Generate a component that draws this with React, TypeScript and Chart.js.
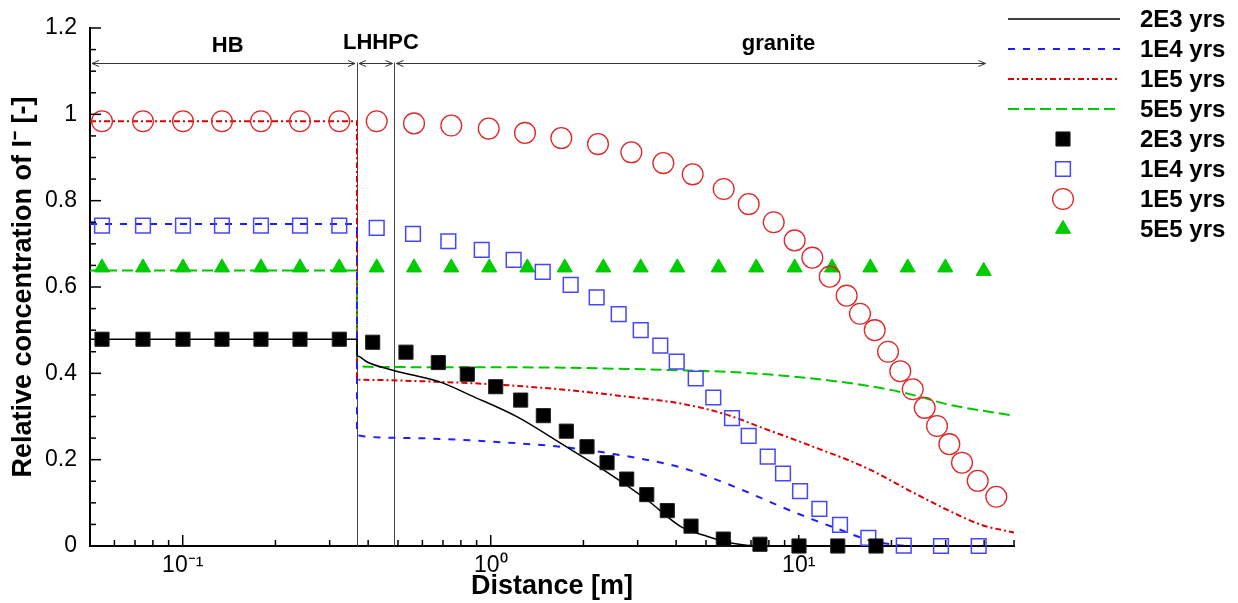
import React, { useEffect, useRef } from 'react';
import { Chart, registerables } from 'chart.js';

Chart.register(...registerables);

const FONT = "'Liberation Sans', Arial, Helvetica, sans-serif";

// ---------- simulated curves (lines) ----------
const line2e3X = [0.05, 0.368, 0.368, 0.40, 0.487, 0.69, 0.86, 1.22, 1.73, 2.33, 3.23, 4.14, 5.06, 6.03, 7.5, 50];
const line2e3Y = [0.479, 0.479, 0.44, 0.425, 0.406, 0.379, 0.349, 0.299, 0.233, 0.176, 0.106, 0.045, 0.022, 0.007, 0, 0];

const line1e4X = [0.05, 0.368, 0.368, 0.40, 0.637, 1.0, 1.73, 2.51, 4.04, 5.3, 6.8, 8.76, 11.24, 13.7, 16.8, 21, 25, 50];
const line1e4Y = [0.746, 0.746, 0.256, 0.253, 0.249, 0.242, 0.229, 0.213, 0.184, 0.156, 0.125, 0.091, 0.06, 0.037, 0.014, 0.002, 0, 0];

const line1e5X = [0.05, 0.368, 0.368, 0.637, 1.05, 1.73, 2.85, 4.14, 5.73, 7.73, 11.24, 16.34, 23.8, 30.5, 39.2, 50];
const line1e5Y = [0.984, 0.984, 0.385, 0.381, 0.374, 0.362, 0.345, 0.33, 0.306, 0.272, 0.229, 0.183, 0.122, 0.083, 0.049, 0.031];

const line5e5X = [0.05, 0.368, 0.368, 0.40, 1.05, 1.73, 2.85, 4.14, 6.03, 8.76, 12.74, 18.5, 23.8, 30.5, 50];
const line5e5Y = [0.638, 0.638, 0.417, 0.415, 0.414, 0.413, 0.41, 0.407, 0.403, 0.395, 0.383, 0.366, 0.349, 0.328, 0.302];

// ---------- measured points (markers) ----------
const pts2e3X = [0.0547, 0.0743, 0.1002, 0.1341, 0.1795, 0.2403, 0.3224, 0.4138, 0.5307, 0.6759, 0.8394, 1.038, 1.251, 1.482, 1.76, 2.054, 2.386, 2.764, 3.211, 3.744, 4.47, 5.69, 7.485, 10.02, 13.39, 17.82];
const pts2e3Y = [0.479, 0.479, 0.479, 0.479, 0.479, 0.479, 0.479, 0.472, 0.449, 0.425, 0.398, 0.369, 0.338, 0.302, 0.266, 0.23, 0.193, 0.155, 0.119, 0.082, 0.046, 0.016, 0.004, 0, 0, 0];

const pts1e4X = [0.0547, 0.0743, 0.1002, 0.1341, 0.1795, 0.2403, 0.3224, 0.4264, 0.5594, 0.7285, 0.935, 1.187, 1.475, 1.818, 2.208, 2.603, 3.069, 3.553, 4.017, 4.63, 5.28, 6.073, 6.88, 7.932, 8.892, 10.1, 11.67, 13.62, 16.83, 21.93, 28.97, 38.41];
const pts1e4Y = [0.742, 0.742, 0.742, 0.742, 0.742, 0.742, 0.742, 0.737, 0.723, 0.706, 0.686, 0.663, 0.635, 0.605, 0.576, 0.537, 0.5, 0.464, 0.427, 0.388, 0.344, 0.296, 0.255, 0.207, 0.168, 0.127, 0.086, 0.049, 0.019, 0.001, 0, 0];

const pts1e5X = [0.0547, 0.0743, 0.1002, 0.1341, 0.1795, 0.2403, 0.3224, 0.4264, 0.5636, 0.7447, 0.985, 1.292, 1.695, 2.23, 2.861, 3.635, 4.527, 5.707, 6.88, 8.295, 9.7, 11.07, 12.61, 14.31, 15.81, 17.65, 19.5, 21.37, 23.45, 25.65, 28.12, 30.83, 33.9, 38.12, 43.8];
const pts1e5Y = [0.984, 0.984, 0.984, 0.984, 0.984, 0.984, 0.984, 0.984, 0.979, 0.974, 0.967, 0.957, 0.945, 0.931, 0.912, 0.887, 0.861, 0.827, 0.792, 0.75, 0.708, 0.668, 0.624, 0.58, 0.538, 0.5, 0.45, 0.405, 0.363, 0.32, 0.278, 0.236, 0.193, 0.151, 0.114];

const pts5e5X = [0.0547, 0.0743, 0.1002, 0.1341, 0.1795, 0.2403, 0.3224, 0.4264, 0.5636, 0.7447, 0.9894, 1.315, 1.739, 2.321, 3.069, 4.035, 5.497, 7.28, 9.7, 12.83, 17.08, 22.59, 29.92, 39.87];
const pts5e5Y = [0.645, 0.645, 0.645, 0.645, 0.645, 0.645, 0.645, 0.645, 0.645, 0.645, 0.645, 0.645, 0.645, 0.645, 0.645, 0.645, 0.645, 0.645, 0.645, 0.645, 0.645, 0.645, 0.645, 0.637];

const legendLabels = ['2E3 yrs', '1E4 yrs', '1E5 yrs', '5E5 yrs', '2E3 yrs', '1E4 yrs', '1E5 yrs', '5E5 yrs'];

// ---------- axes ----------
const xMin = 0.05;
const xMax = 50;
const xTickValues = [0.1, 1, 10];
const xTickLabels = ['10⁻¹', '10⁰', '10¹'];
const xMinorDecades = [0.01, 0.1, 1, 10];
const xMinorMultipliers = [2, 3, 4, 5, 6, 7, 8, 9];
const yMin = 0;
const yMax = 1.2;
const yTickValues = [0, 0.2, 0.4, 0.6, 0.8, 1, 1.2];
const yTickLabels = ['0', '0.2', '0.4', '0.6', '0.8', '1', '1.2'];
const yMinorValues = [0.05, 0.1, 0.15, 0.25, 0.3, 0.35, 0.45, 0.5, 0.55, 0.65, 0.7, 0.75, 0.85, 0.9, 0.95, 1.05, 1.1, 1.15];

// ---------- zone annotations ----------
const boundaryX = [0.368, 0.487];
const arrowY = 1.12;
const zoneStart = [0.05, 0.368, 0.487];
const zoneEnd = [0.368, 0.487, 41];
const zoneLabels = ['HB', 'LHHPC', 'granite'];
const zoneLabelX = [0.14, 0.44, 8.6];
const zoneLabelY = [1.158, 1.165, 1.163];

const toPts = (xs: number[], ys: number[]) => xs.map((x, i) => ({ x, y: ys[i] }));

function drawMarker(ctx: CanvasRenderingContext2D, style: string, x: number, y: number, r: number) {
  ctx.beginPath();
  if (style === 'rect') {
    const s = r * Math.SQRT1_2;
    ctx.rect(x - s, y - s, 2 * s, 2 * s);
  } else if (style === 'circle') {
    ctx.arc(x, y, r, 0, Math.PI * 2);
  } else if (style === 'triangle') {
    let rad = 0;
    ctx.moveTo(x + Math.sin(rad) * r, y - Math.cos(rad) * r);
    rad += (2 * Math.PI) / 3;
    ctx.lineTo(x + Math.sin(rad) * r, y - Math.cos(rad) * r);
    rad += (2 * Math.PI) / 3;
    ctx.lineTo(x + Math.sin(rad) * r, y - Math.cos(rad) * r);
  }
  ctx.closePath();
}

const zonePlugin = {
  id: 'zones',
  beforeDatasetsDraw(chart: any) {
    const { ctx, scales } = chart;
    const xs = scales.x;
    const ys = scales.y;
    const ya = ys.getPixelForValue(arrowY);
    const y0 = ys.getPixelForValue(0);
    ctx.save();
    ctx.strokeStyle = '#444';
    ctx.lineWidth = 1;
    boundaryX.forEach((b) => {
      const px = Math.round(xs.getPixelForValue(b)) + 0.5;
      ctx.beginPath();
      ctx.moveTo(px, ya);
      ctx.lineTo(px, y0);
      ctx.stroke();
    });
    ctx.strokeStyle = '#333';
    const yy = Math.round(ya) + 0.5;
    zoneStart.forEach((s, i) => {
      const x1 = xs.getPixelForValue(s) + 2;
      const x2 = xs.getPixelForValue(zoneEnd[i]) - 2;
      ctx.beginPath();
      ctx.moveTo(x1, yy);
      ctx.lineTo(x2, yy);
      ctx.moveTo(x1 + 7, yy - 3);
      ctx.lineTo(x1, yy);
      ctx.lineTo(x1 + 7, yy + 3);
      ctx.moveTo(x2 - 7, yy - 3);
      ctx.lineTo(x2, yy);
      ctx.lineTo(x2 - 7, yy + 3);
      ctx.stroke();
    });
    ctx.fillStyle = '#000';
    ctx.font = `bold 22px ${FONT}`;
    ctx.textAlign = 'center';
    ctx.textBaseline = 'middle';
    zoneLabels.forEach((t, i) => {
      ctx.fillText(t, xs.getPixelForValue(zoneLabelX[i]), ys.getPixelForValue(zoneLabelY[i]));
    });
    ctx.restore();
  },
};

const tickPlugin = {
  id: 'inTicks',
  afterDraw(chart: any) {
    const { ctx, scales, chartArea } = chart;
    const xs = scales.x;
    const ys = scales.y;
    ctx.save();
    ctx.strokeStyle = '#000';
    ctx.lineWidth = 1.5;
    const bottom = chartArea.bottom;
    const left = chartArea.left;
    const drawX = (v: number, len: number) => {
      const px = xs.getPixelForValue(v);
      ctx.beginPath();
      ctx.moveTo(px, bottom);
      ctx.lineTo(px, bottom - len);
      ctx.stroke();
    };
    xTickValues.forEach((v) => drawX(v, 11));
    xMinorDecades.forEach((d) =>
      xMinorMultipliers.forEach((m) => {
        const v = d * m;
        if (v >= xMin * 1.01 && v <= xMax * 1.0001) drawX(v, 6);
      })
    );
    const drawY = (v: number, len: number) => {
      const py = ys.getPixelForValue(v);
      ctx.beginPath();
      ctx.moveTo(left, py);
      ctx.lineTo(left + len, py);
      ctx.stroke();
    };
    yTickValues.forEach((v) => drawY(v, 11));
    yMinorValues.forEach((v) => drawY(v, 6));
    ctx.restore();
  },
};

const legendPlugin = {
  id: 'sideLegend',
  afterDraw(chart: any) {
    const { ctx } = chart;
    const ds = chart.data.datasets;
    ctx.save();
    ds.forEach((d: any, i: number) => {
      const y = 19 + 30 * i;
      if (d.showLine) {
        ctx.strokeStyle = d.borderColor;
        ctx.lineWidth = d.borderWidth;
        ctx.setLineDash(d.borderDash || []);
        ctx.beginPath();
        ctx.moveTo(1008, y);
        ctx.lineTo(1120, y);
        ctx.stroke();
        ctx.setLineDash([]);
      } else {
        drawMarker(ctx, d.pointStyle, 1063, y, d.pointRadius);
        if (d.pointBackgroundColor && d.pointBackgroundColor !== 'rgba(0,0,0,0)') {
          ctx.fillStyle = d.pointBackgroundColor;
          ctx.fill();
        }
        if (d.pointBorderWidth) {
          ctx.strokeStyle = d.pointBorderColor;
          ctx.lineWidth = d.pointBorderWidth;
          ctx.stroke();
        }
      }
      ctx.fillStyle = '#000';
      ctx.font = `bold 24px ${FONT}`;
      ctx.textAlign = 'left';
      ctx.textBaseline = 'middle';
      ctx.fillText(legendLabels[i], 1140, y + 1);
    });
    ctx.restore();
  },
};

const lineDs = (label: string, xs: number[], ys: number[], color: string, width: number, dash: number[]) => ({
  label,
  data: toPts(xs, ys),
  showLine: true,
  borderColor: color,
  borderWidth: width,
  borderDash: dash,
  pointRadius: 0,
  pointHoverRadius: 0,
  cubicInterpolationMode: 'monotone',
  fill: false,
  order: 1,
});

const markDs = (label: string, xs: number[], ys: number[], style: string, r: number, fillC: string, strokeC: string, bw: number) => ({
  label,
  data: toPts(xs, ys),
  showLine: false,
  pointStyle: style,
  pointRadius: r,
  pointHoverRadius: r,
  pointBackgroundColor: fillC,
  pointBorderColor: strokeC,
  pointBorderWidth: bw,
  backgroundColor: fillC,
  borderColor: strokeC,
  clip: false,
  order: 0,
});

export default function App() {
  const ref = useRef<HTMLCanvasElement>(null);
  useEffect(() => {
    if (!ref.current) return;
    const datasets: any[] = [
      lineDs(legendLabels[0], line2e3X, line2e3Y, '#000000', 1.5, []),
      lineDs(legendLabels[1], line1e4X, line1e4Y, 'rgb(30,30,255)', 2, [7, 8]),
      lineDs(legendLabels[2], line1e5X, line1e5Y, 'rgb(220,0,0)', 2, [6, 3, 2, 3]),
      lineDs(legendLabels[3], line5e5X, line5e5Y, 'rgb(0,200,0)', 2, [11, 5]),
      markDs(legendLabels[4], pts2e3X, pts2e3Y, 'rect', 10, '#000000', '#222222', 1),
      markDs(legendLabels[5], pts1e4X, pts1e4Y, 'rect', 10.4, 'rgba(0,0,0,0)', 'rgb(70,70,255)', 1.5),
      markDs(legendLabels[6], pts1e5X, pts1e5Y, 'circle', 10.4, 'rgba(0,0,0,0)', 'rgb(225,40,40)', 1.3),
      markDs(legendLabels[7], pts5e5X, pts5e5Y, 'triangle', 8.7, 'rgb(0,204,0)', 'rgb(0,204,0)', 1),
    ];
    const chart = new Chart(ref.current, {
      type: 'scatter',
      data: { datasets },
      options: {
        animation: false,
        responsive: false,
        devicePixelRatio: 1,
        events: [],
        layout: { padding: { left: 0, top: 28, right: 224, bottom: 0 } },
        plugins: { legend: { display: false }, tooltip: { enabled: false } },
        scales: {
          x: {
            type: 'logarithmic',
            min: xMin,
            max: xMax,
            grid: { display: false, drawTicks: false },
            border: { display: true, color: '#000', width: 2 },
            ticks: {
              color: '#000',
              font: { family: FONT, size: 23 },
              padding: 6,
              autoSkip: false,
              maxRotation: 0,
              callback: (v: any) => {
                const i = xTickValues.findIndex((t) => Math.abs(t - Number(v)) < 1e-9 * Math.max(1, t));
                return i >= 0 ? xTickLabels[i] : '';
              },
            },
            afterBuildTicks: (scale: any) => {
              scale.ticks = xTickValues.map((v) => ({ value: v }));
            },
            afterFit: (scale: any) => {
              scale.height = 57;
            },
            title: {
              display: true,
              text: 'Distance [m]',
              color: '#000',
              font: { family: FONT, size: 27, weight: 'bold' },
              padding: { top: 0, bottom: 0 },
            },
          },
          y: {
            type: 'linear',
            min: yMin,
            max: yMax,
            grid: { display: false, drawTicks: false },
            border: { display: true, color: '#000', width: 2 },
            ticks: {
              color: '#000',
              font: { family: FONT, size: 23 },
              padding: 13,
              autoSkip: false,
              callback: (v: any) => {
                const i = yTickValues.findIndex((t) => Math.abs(t - Number(v)) < 1e-9);
                return i >= 0 ? yTickLabels[i] : '';
              },
            },
            afterBuildTicks: (scale: any) => {
              scale.ticks = yTickValues.map((v) => ({ value: v }));
            },
            afterFit: (scale: any) => {
              scale.width = 90;
            },
            title: {
              display: true,
              text: 'Relative concentration of I⁻ [-]',
              color: '#000',
              font: { family: FONT, size: 27, weight: 'bold' },
              padding: { top: 7, bottom: 0 },
            },
          },
        },
      } as any,
      plugins: [zonePlugin, tickPlugin, legendPlugin],
    });
    return () => chart.destroy();
  }, []);
  return (
    <div style={{ position: 'absolute', left: 0, top: 0, width: 1238, height: 603, background: '#fff' }}>
      <canvas ref={ref} width={1238} height={603} style={{ display: 'block' }} />
    </div>
  );
}
